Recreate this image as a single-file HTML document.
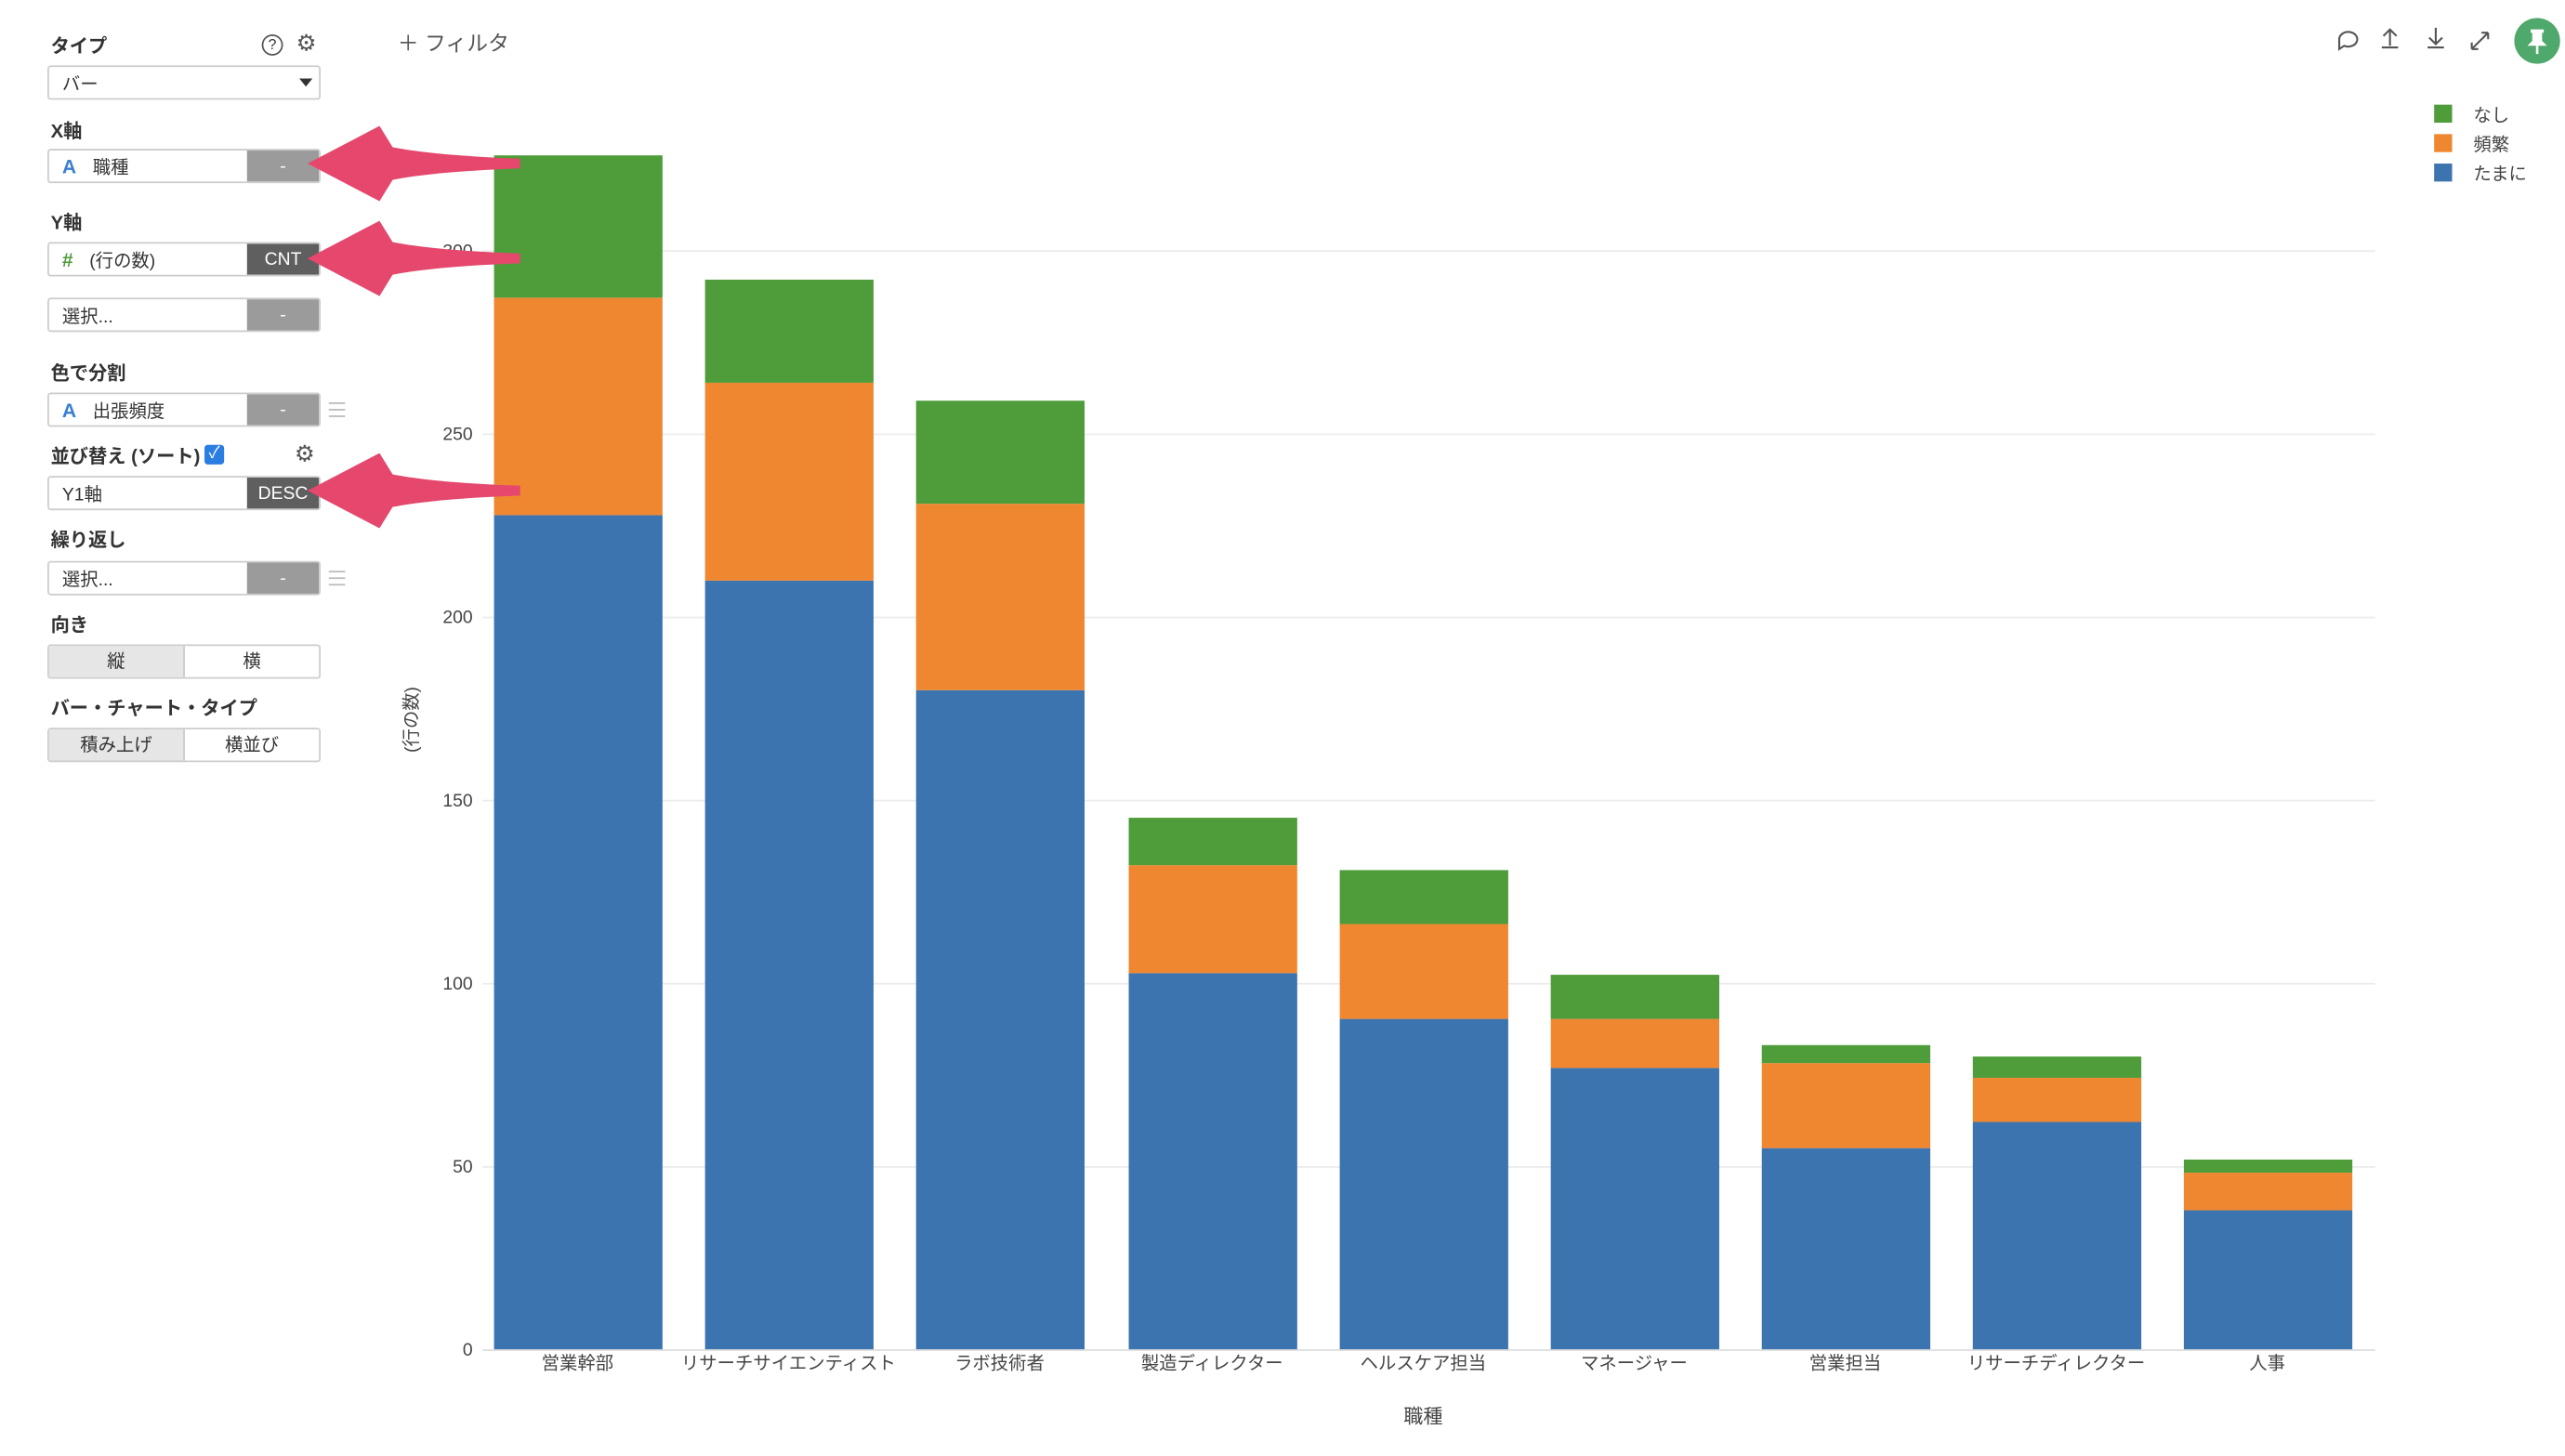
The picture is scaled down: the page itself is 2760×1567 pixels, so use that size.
<!DOCTYPE html>
<html><head><meta charset="utf-8">
<style>
html,body{margin:0;padding:0;background:#fff;width:2760px;height:1566px;overflow:hidden}
#w{position:absolute;left:0;top:0;width:1568px;height:890px;transform:scale(1.76020);transform-origin:0 0;font-family:"Liberation Sans","Noto Sans CJK JP",sans-serif;color:#333}
.lb{position:absolute;left:31px;font-size:11.5px;font-weight:bold;color:#333}
.in{position:absolute;left:29px;width:165px;height:19px;border:1px solid #ccc;border-radius:2px;background:#fff;font-size:11px;box-sizing:content-box;overflow:hidden}
.in .t{position:absolute;left:8px;top:2px}
.in .g{position:absolute;left:121px;top:0;width:44px;height:19px;background:#9b9b9b;color:#fff;text-align:center;line-height:20px;font-size:11px}
.in .d{background:#5f5f5f}
.A{color:#3a7fd1;font-weight:bold;margin-right:10px;font-size:12px}
.hb{position:absolute;left:201px;width:10px;height:7px;border-top:1px solid #bbb;border-bottom:1px solid #bbb}
.hb:after{content:"";position:absolute;left:0;top:3px;width:10px;border-top:1px solid #bbb}
.bt{position:absolute;left:29px;width:165px;height:19px;border:1px solid #ccc;border-radius:2px;font-size:11px;display:flex}
.bt div{flex:1;text-align:center;line-height:20px}
.bt .on{background:#e6e6e6;border-right:1px solid #ccc}
</style></head><body><div id="w">
<div class="lb" style="top:20px">タイプ</div>
<div style="position:absolute;left:160px;top:21px;width:11px;height:11px;border:1px solid #555;border-radius:50%;font-size:9px;text-align:center;line-height:11px">?</div>
<div style="position:absolute;left:181px;top:18px;font-size:14px;color:#555">⚙</div>
<div class="in" style="top:40px"><span class="t">バー</span><span style="position:absolute;left:153px;top:7px;border:4px solid transparent;border-top:5px solid #333"></span></div>
<div class="lb" style="top:72px">X軸</div>
<div class="in" style="top:91px"><span class="t"><span class="A">A</span>職種</span><div class="g">-</div></div>
<div class="lb" style="top:128px">Y軸</div>
<div class="in" style="top:148px"><span class="t"><span class="A" style="color:#4e9c3a">#</span>(行の数)</span><div class="g d">CNT</div></div>
<div class="in" style="top:182px"><span class="t">選択...</span><div class="g">-</div></div>
<div class="lb" style="top:220px">色で分割</div>
<div class="in" style="top:240px"><span class="t"><span class="A">A</span>出張頻度</span><div class="g">-</div></div>
<div class="hb" style="top:246px"></div>
<div class="lb" style="top:271px">並び替え (ソート)</div>
<div style="position:absolute;left:125px;top:272px;width:12px;height:12px;background:#2a7de1;border-radius:2px;color:#fff;font-size:10px;text-align:center;line-height:12px">✓</div>
<div style="position:absolute;left:180px;top:269px;font-size:14px;color:#555">⚙</div>
<div class="in" style="top:291px"><span class="t">Y1軸</span><div class="g d">DESC</div></div>
<div class="lb" style="top:322px">繰り返し</div>
<div class="in" style="top:343px"><span class="t">選択...</span><div class="g">-</div></div>
<div class="hb" style="top:349px"></div>
<div class="lb" style="top:374px">向き</div>
<div class="bt" style="top:394px"><div class="on">縦</div><div>横</div></div>
<div class="lb" style="top:425px">バー・チャート・タイプ</div>
<div class="bt" style="top:445px"><div class="on">積み上げ</div><div>横並び</div></div>
<div style="position:absolute;left:243px;top:16px;font-size:13px;color:#555">＋ フィルタ</div>

<svg style="position:absolute;left:0;top:0" width="1568" height="890" font-family="Liberation Sans, Noto Sans CJK JP, sans-serif">
<g stroke="#ececec" stroke-width="1">
<line x1="295" x2="1452" y1="713.5" y2="713.5"/><line x1="295" x2="1452" y1="601.5" y2="601.5"/><line x1="295" x2="1452" y1="489.5" y2="489.5"/><line x1="295" x2="1452" y1="377.5" y2="377.5"/><line x1="295" x2="1452" y1="265.5" y2="265.5"/><line x1="295" x2="1452" y1="153.5" y2="153.5"/>
</g>
<line x1="295" x2="1452" y1="825.5" y2="825.5" stroke="#ddd"/>
<g font-size="11" fill="#444" text-anchor="end">
<text x="289" y="829">0</text><text x="289" y="717">50</text><text x="289" y="605">100</text><text x="289" y="493">150</text><text x="289" y="381">200</text><text x="289" y="269">250</text><text x="289" y="157">300</text>
</g>
<g>
<rect x="302" y="315" width="103" height="510" fill="#3c74b0"/><rect x="302" y="182" width="103" height="133" fill="#ef8731"/><rect x="302" y="95" width="103" height="87" fill="#4e9c3a"/>
<rect x="431" y="355" width="103" height="470" fill="#3c74b0"/><rect x="431" y="234" width="103" height="121" fill="#ef8731"/><rect x="431" y="171" width="103" height="63" fill="#4e9c3a"/>
<rect x="560" y="422" width="103" height="403" fill="#3c74b0"/><rect x="560" y="308" width="103" height="114" fill="#ef8731"/><rect x="560" y="245" width="103" height="63" fill="#4e9c3a"/>
<rect x="690" y="595" width="103" height="230" fill="#3c74b0"/><rect x="690" y="529" width="103" height="66" fill="#ef8731"/><rect x="690" y="500" width="103" height="29" fill="#4e9c3a"/>
<rect x="819" y="623" width="103" height="202" fill="#3c74b0"/><rect x="819" y="565" width="103" height="58" fill="#ef8731"/><rect x="819" y="532" width="103" height="33" fill="#4e9c3a"/>
<rect x="948" y="653" width="103" height="172" fill="#3c74b0"/><rect x="948" y="623" width="103" height="30" fill="#ef8731"/><rect x="948" y="596" width="103" height="27" fill="#4e9c3a"/>
<rect x="1077" y="702" width="103" height="123" fill="#3c74b0"/><rect x="1077" y="650" width="103" height="52" fill="#ef8731"/><rect x="1077" y="639" width="103" height="11" fill="#4e9c3a"/>
<rect x="1206" y="686" width="103" height="139" fill="#3c74b0"/><rect x="1206" y="659" width="103" height="27" fill="#ef8731"/><rect x="1206" y="646" width="103" height="13" fill="#4e9c3a"/>
<rect x="1335" y="740" width="103" height="85" fill="#3c74b0"/><rect x="1335" y="717" width="103" height="23" fill="#ef8731"/><rect x="1335" y="709" width="103" height="8" fill="#4e9c3a"/>
</g>
<g font-size="11" fill="#444" text-anchor="middle">
<text x="353" y="837">営業幹部</text><text x="482" y="837">リサーチサイエンティスト</text><text x="611" y="837">ラボ技術者</text><text x="741" y="837">製造ディレクター</text><text x="870" y="837">ヘルスケア担当</text><text x="999" y="837">マネージャー</text><text x="1128" y="837">営業担当</text><text x="1257" y="837">リサーチディレクター</text><text x="1386" y="837">人事</text>
<text x="870" y="870" font-size="12">職種</text>
<text transform="translate(255,440) rotate(-90)" font-size="11">(行の数)</text>
</g>
<g font-size="11" fill="#444">
<rect x="1488" y="64" width="11" height="11" fill="#4e9c3a"/><text x="1512" y="74">なし</text>
<rect x="1488" y="82" width="11" height="11" fill="#ef8731"/><text x="1512" y="92">頻繁</text>
<rect x="1488" y="100" width="11" height="11" fill="#3c74b0"/><text x="1512" y="110">たまに</text>
</g>
<g stroke="#555" stroke-width="1.2" fill="none">
<path d="M1430 24a5.5 4.5 0 1 1 3 4l-3 2z"/>
<path d="M1456 29h10M1461 28v-10M1457 22l4-4 4 4"/>
<path d="M1484 29h10M1489 17v10M1485 23l4 4 4-4"/>
<path d="M1511 30l10-10M1511 30v-4M1511 30h4M1521 20h-4M1521 20v4"/>
</g>
<circle cx="1551" cy="25" r="14" fill="#4fa86c"/>
<path d="M1547 18h8v2h-1v5l3 3h-12l3-3v-5h-1z" fill="#fff"/><line x1="1551" y1="28" x2="1551" y2="33" stroke="#fff" stroke-width="1.5"/>
<g fill="#e5476d">
<path d="M318 97 C290 96 260 94 240 90 L232 77 L188 100 L232 123 L240 110 C260 106 290 104 318 103 Z"/>
<path d="M318 155 C290 154 260 152 240 148 L232 135 L188 158 L232 181 L240 168 C260 164 290 162 318 161 Z"/>
<path d="M318 297 C290 296 260 294 240 290 L232 277 L188 300 L232 323 L240 310 C260 306 290 304 318 303 Z"/>
</g>
</svg>
</div></body></html>
